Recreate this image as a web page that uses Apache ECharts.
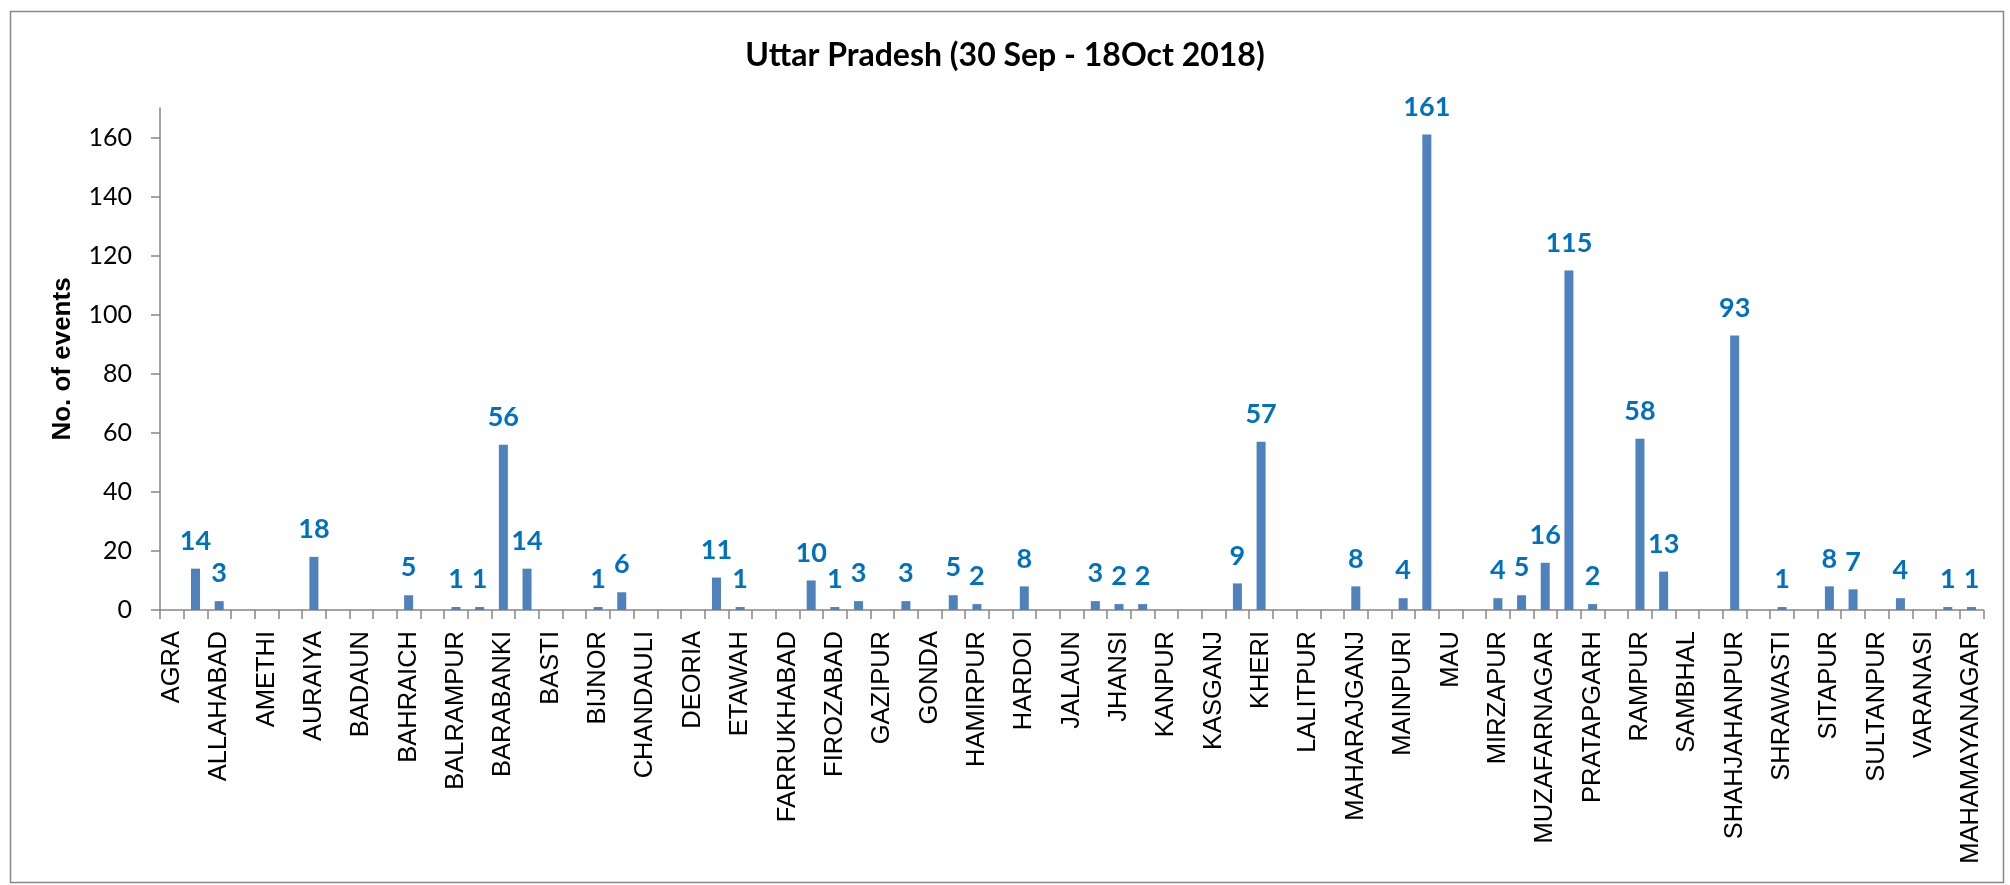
<!DOCTYPE html>
<html>
<head>
<meta charset="utf-8">
<script src="https://cdn.jsdelivr.net/npm/echarts@6/dist/echarts.min.js"></script>
<style>
html,body{margin:0;padding:0;background:#fff;}
#chart{width:2010px;height:885px;}
</style>
</head>
<body>
<div id="chart"></div>
<script>
// Districts (every other label is shown on the axis)
const categories = [
  'AGRA','ALIGARH','ALLAHABAD','AMBEDKAR NAGAR','AMETHI','AMROHA','AURAIYA','AZAMGARH',
  'BADAUN','BAGHPAT','BAHRAICH','BALLIA','BALRAMPUR','BANDA','BARABANKI','BAREILLY',
  'BASTI','BHADOHI','BIJNOR','BULANDSHAHR','CHANDAULI','CHITRAKOOT','DEORIA','ETAH',
  'ETAWAH','FAIZABAD','FARRUKHABAD','FATEHPUR','FIROZABAD','GAUTAM BUDDHA NAGAR','GAZIPUR','GHAZIABAD',
  'GONDA','GORAKHPUR','HAMIRPUR','HAPUR','HARDOI','HATHRAS','JALAUN','JAUNPUR',
  'JHANSI','KANNAUJ','KANPUR','KANPUR DEHAT','KASGANJ','KAUSHAMBI','KHERI','KUSHINAGAR',
  'LALITPUR','LUCKNOW','MAHARAJGANJ','MAHOBA','MAINPURI','MATHURA','MAU','MEERUT',
  'MIRZAPUR','MORADABAD','MUZAFARNAGAR','PILIBHIT','PRATAPGARH','RAEBARELI','RAMPUR','SAHARANPUR',
  'SAMBHAL','SANT KABIR NAGAR','SHAHJAHANPUR','SHAMLI','SHRAWASTI','SIDDHARTHNAGAR','SITAPUR','SONBHADRA',
  'SULTANPUR','UNNAO','VARANASI','KANSHIRAM NAGAR','MAHAMAYANAGAR'
];
// No. of events
const events = [
  0,14,3,0,0,0,18,0,
  0,0,5,0,1,1,56,14,
  0,0,1,6,0,0,0,11,
  1,0,0,10,1,3,0,3,
  0,5,2,0,8,0,0,3,
  2,2,0,0,0,9,57,0,
  0,0,8,0,4,161,0,0,
  4,5,16,115,2,0,58,13,
  0,0,93,0,1,0,8,7,
  0,4,0,1,1
];
const yTicks = [0,20,40,60,80,100,120,140,160];
const titleText = 'Uttar Pradesh (30 Sep - 18Oct 2018)';
const yName = 'No. of events';

const chart = echarts.init(document.getElementById('chart'), null, {renderer:'canvas'});
const axisGray = '#868686';
chart.setOption({
  animation: false,
  backgroundColor: '#ffffff',
  title: {
    text: titleText,
    left: 'center',
    top: 35,
    textStyle: {fontFamily: 'Lato', fontWeight: 'bold', fontSize: 32, color: '#000'}
  },
  graphic: [{
    type: 'rect',
    shape: {x: 10.5, y: 11.5, width: 1993, height: 871},
    style: {fill: 'none', stroke: '#898989', lineWidth: 1.5},
    silent: true
  }],
  grid: {left: 160, right: 26.7, top: 108, bottom: 275, containLabel: false, outerBoundsMode: 'none'},
  xAxis: {
    type: 'category',
    data: categories,
    boundaryGap: true,
    axisLine: {show: true, lineStyle: {color: axisGray, width: 1.5}},
    axisTick: {show: true, interval: 0, length: 9, lineStyle: {color: axisGray, width: 1.5}},
    axisLabel: {interval: 1, rotate: 90, margin: 21, fontFamily: 'Liberation Sans', fontSize: 25.5, color: '#000'},
    splitLine: {show: false}
  },
  yAxis: {
    type: 'value',
    min: 0, max: 170, interval: 20,
    name: yName,
    nameLocation: 'middle',
    nameRotate: 90,
    nameGap: 84,
    nameTextStyle: {fontFamily: 'Liberation Sans', fontWeight: 'bold', fontSize: 26, color: '#000'},
    axisLine: {show: true, lineStyle: {color: axisGray, width: 1.5}},
    axisTick: {show: true, length: 9, customValues: yTicks, lineStyle: {color: axisGray, width: 1.5}},
    axisLabel: {customValues: yTicks, margin: 28, fontFamily: 'Lato', fontSize: 25, color: '#000'},
    splitLine: {show: false}
  },
  series: [{
    type: 'bar',
    data: events,
    barWidth: 9,
    itemStyle: {color: '#4F81BD'},
    label: {
      show: true,
      position: 'top',
      distance: 14,
      fontFamily: 'Lato',
      fontWeight: 'bold',
      fontSize: 27,
      color: '#0070C0',
      formatter: p => (p.value > 0 ? String(p.value) : '')
    }
  }]
});
</script>
</body>
</html>
